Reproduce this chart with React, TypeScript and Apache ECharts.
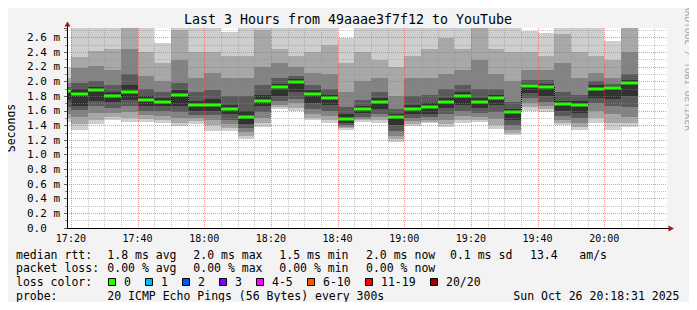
import React, { useEffect, useRef } from 'react';
import * as echarts from 'echarts';

// 5-minute smokeping columns, labelled by their end time
const colEnds = [
  '17:20', '17:25', '17:30', '17:35', '17:40', '17:45', '17:50', '17:55',
  '18:00', '18:05', '18:10', '18:15', '18:20', '18:25', '18:30', '18:35',
  '18:40', '18:45', '18:50', '18:55', '19:00', '19:05', '19:10', '19:15',
  '19:20', '19:25', '19:30', '19:35', '19:40', '19:45', '19:50', '19:55',
  '20:00', '20:05', '20:10',
];
// labelled time ticks and unlabelled 5-minute grid ticks
const timeTicks = ['17:20', '17:40', '18:00', '18:20', '18:40', '19:00', '19:20', '19:40', '20:00'];
const minorTimeTicks = [
  '17:25', '17:30', '17:35', '17:45', '17:50', '17:55', '18:05', '18:10', '18:15',
  '18:25', '18:30', '18:35', '18:45', '18:50', '18:55', '19:05', '19:10', '19:15',
  '19:25', '19:30', '19:35', '19:45', '19:50', '19:55', '20:05', '20:10', '20:15',
];

// ping distribution per column (ms), sorted ping ranks 20 (max) .. 1 (min)
const pingMax = [2.2, 2.8, 2.8, 2.8, 2.8, 2.8, 2.53, 2.8, 2.8, 2.8, 2.68, 2.8, 2.8, 2.8, 2.8, 2.8, 2.8, 2.6, 2.8, 2.8, 2.8, 2.8, 2.8, 2.8, 2.8, 2.8, 2.8, 2.8, 2.69, 2.66, 2.8, 2.8, 2.8, 2.55, 2.8];
const ping18 = [2.05, 2.34, 2.42, 2.45, 2.8, 2.4, 2.25, 2.7, 2.4, 2.4, 2.35, 2.35, 2.7, 2.45, 2.35, 2.4, 2.5, 2.25, 2.4, 2.3, 2.2, 2.35, 2.45, 2.6, 2.45, 2.75, 2.45, 2.4, 2.4, 2.35, 2.65, 2.4, 2.35, 2.3, 2.8];
const ping16 = [1.98, 2.18, 2.21, 2.15, 2.45, 2.08, 2.0, 2.3, 2.05, 2.12, 2.05, 2.05, 2.2, 2.25, 2.2, 2.12, 2.1, 1.85, 2.0, 2.05, 1.8, 2.05, 2.05, 2.1, 2.15, 2.3, 2.1, 2.0, 2.15, 2.15, 2.25, 2.05, 2.12, 2.05, 2.4];
const ping14 = [1.93, 1.98, 2.0, 1.95, 2.1, 1.9, 1.85, 1.98, 1.85, 1.88, 1.8, 1.8, 1.95, 2.05, 2.08, 1.95, 1.9, 1.65, 1.75, 1.85, 1.62, 1.8, 1.82, 1.9, 1.95, 1.9, 1.9, 1.72, 2.02, 2.02, 1.85, 1.82, 2.0, 1.97, 2.1];
const ping12 = [1.9, 1.9, 1.93, 1.86, 1.95, 1.8, 1.77, 1.88, 1.74, 1.76, 1.68, 1.6, 1.82, 1.97, 2.03, 1.88, 1.82, 1.55, 1.67, 1.77, 1.55, 1.68, 1.7, 1.78, 1.85, 1.77, 1.82, 1.62, 1.97, 1.97, 1.74, 1.73, 1.95, 1.94, 2.02];
const medianRtt = [1.87, 1.83, 1.885, 1.8, 1.86, 1.75, 1.725, 1.82, 1.685, 1.675, 1.62, 1.51, 1.74, 1.92, 1.99, 1.83, 1.77, 1.485, 1.626, 1.725, 1.51, 1.62, 1.65, 1.725, 1.8, 1.72, 1.77, 1.585, 1.935, 1.93, 1.69, 1.68, 1.9, 1.91, 1.98];
const ping9 = [1.75, 1.66, 1.74, 1.72, 1.75, 1.66, 1.66, 1.66, 1.6, 1.6, 1.55, 1.42, 1.66, 1.8, 1.85, 1.7, 1.68, 1.44, 1.57, 1.62, 1.4, 1.55, 1.56, 1.64, 1.68, 1.64, 1.68, 1.48, 1.84, 1.8, 1.6, 1.57, 1.78, 1.76, 1.8];
const ping7 = [1.65, 1.61, 1.66, 1.64, 1.66, 1.6, 1.6, 1.58, 1.54, 1.54, 1.48, 1.36, 1.58, 1.74, 1.76, 1.62, 1.6, 1.41, 1.52, 1.56, 1.32, 1.5, 1.51, 1.55, 1.6, 1.57, 1.58, 1.4, 1.77, 1.72, 1.53, 1.5, 1.7, 1.66, 1.65];
const ping5 = [1.55, 1.52, 1.57, 1.57, 1.58, 1.54, 1.53, 1.5, 1.5, 1.47, 1.42, 1.31, 1.5, 1.68, 1.7, 1.55, 1.53, 1.38, 1.49, 1.51, 1.26, 1.46, 1.48, 1.48, 1.53, 1.52, 1.49, 1.34, 1.7, 1.66, 1.48, 1.44, 1.6, 1.55, 1.52];
const ping3 = [1.5, 1.42, 1.48, 1.51, 1.5, 1.49, 1.47, 1.44, 1.46, 1.4, 1.37, 1.26, 1.43, 1.65, 1.64, 1.5, 1.47, 1.36, 1.47, 1.47, 1.22, 1.42, 1.45, 1.42, 1.48, 1.48, 1.41, 1.3, 1.65, 1.62, 1.44, 1.38, 1.5, 1.44, 1.44];
const pingMin = [1.45, 1.34, 1.42, 1.47, 1.45, 1.45, 1.43, 1.39, 1.42, 1.33, 1.32, 1.21, 1.38, 1.62, 1.6, 1.47, 1.43, 1.34, 1.45, 1.44, 1.18, 1.39, 1.43, 1.375, 1.44, 1.45, 1.35, 1.27, 1.6, 1.59, 1.41, 1.34, 1.43, 1.34, 1.38];

const lossLabels = ['0', '1', '2', '3', '4-5', '6-10', '11-19', '20/20'];
const lossColors = ['#26ff00', '#00b8ff', '#0059ff', '#7e00ff', '#ff00ff', '#ff5500', '#ff0000', '#a10000'];

const bandHi = [pingMax, ping18, ping16, ping14, ping12];
const bandLo = [pingMin, ping3, ping5, ping7, ping9];
const bandColors = ['#cecece', '#a8a8a8', '#838383', '#5a5a5a', '#323232'];

const toMin = (s: string) => {
  const [h, m] = s.split(':').map(Number);
  return h * 60 + m;
};
const fmtMin = (v: number) => {
  const r = Math.round(v);
  return `${String(Math.floor(r / 60)).padStart(2, '0')}:${String(r % 60).padStart(2, '0')}`;
};
const xStart = 17 * 60 + 18 + 50 / 60;
const xEnd = xStart + 180;
const mono = '"DejaVu Sans Mono", monospace';
const majorGrid = 'rgba(222,80,80,0.6)';
const minorGrid = 'rgba(143,143,143,0.5)';

export default function App() {
  const ref = useRef<HTMLDivElement>(null);
  useEffect(() => {
    if (!ref.current) return;
    const chart = echarts.init(ref.current, undefined, { renderer: 'svg' });
    const data = colEnds.map((t, i) => [toMin(t), medianRtt[i]]);
    const majorX = timeTicks.map(toMin);
    const gridData = [
      ...minorTimeTicks.map((t) => [toMin(t), 0]),
      ...timeTicks.map((t) => [toMin(t), 1]),
    ];

    const legendText = (x: number, y: number, text: string) => ({
      type: 'text', x, y,
      style: { text, fill: '#000', font: `11.5px ${mono}`, align: 'left', verticalAlign: 'middle' },
    });
    const graphic: any[] = [
      { type: 'rect', shape: { x: 0, y: 0, width: 697, height: 2 }, style: { fill: '#cbcbcb' } },
      { type: 'rect', shape: { x: 0, y: 0, width: 2, height: 310 }, style: { fill: '#cbcbcb' } },
      { type: 'rect', shape: { x: 0, y: 308, width: 697, height: 2 }, style: { fill: '#999999' } },
      { type: 'rect', shape: { x: 695, y: 0, width: 2, height: 310 }, style: { fill: '#999999' } },
      {
        type: 'text', x: 348, y: 19,
        style: { text: 'Last 3 Hours from 49aaae3f7f12 to YouTube', fill: '#000', font: `13.3px ${mono}`, align: 'center', verticalAlign: 'middle' },
      },
      {
        type: 'text', x: 11, y: 128, rotation: Math.PI / 2,
        style: { text: 'Seconds', fill: '#000', font: `11.5px ${mono}`, align: 'center', verticalAlign: 'middle' },
      },
      {
        type: 'text', x: 688.5, y: 68, rotation: -Math.PI / 2,
        style: { text: 'RRDTOOL / TOBI OETIKER', fill: '#a0a0a0', font: `9.5px ${mono}`, align: 'center', verticalAlign: 'middle' },
      },
      { type: 'line', shape: { x1: 67.5, y1: 28, x2: 67.5, y2: 25 }, style: { stroke: '#000', lineWidth: 1 } },
      { type: 'polygon', shape: { points: [[64.5, 26.5], [70.5, 26.5], [67.5, 21.5]] }, style: { fill: '#a01818' } },
      { type: 'line', shape: { x1: 667, y1: 228.5, x2: 669, y2: 228.5 }, style: { stroke: '#000', lineWidth: 1 } },
      { type: 'polygon', shape: { points: [[668.5, 225.5], [668.5, 231.5], [674, 228.5]] }, style: { fill: '#a01818' } },
      legendText(16, 254.5, 'median rtt:'),
      legendText(107.3, 254.5, '1.8 ms avg'),
      legendText(193.3, 254.5, '2.0 ms max'),
      legendText(279.3, 254.5, '1.5 ms min'),
      legendText(366, 254.5, '2.0 ms now'),
      legendText(450, 254.5, '0.1 ms sd'),
      legendText(530, 254.5, '13.4'),
      legendText(579.3, 254.5, 'am/s'),
      legendText(16, 268, 'packet loss:'),
      legendText(107.3, 268, '0.00 % avg'),
      legendText(193.3, 268, '0.00 % max'),
      legendText(279.3, 268, '0.00 % min'),
      legendText(366, 268, '0.00 % now'),
      legendText(16, 282, 'loss color:'),
      legendText(16, 295.5, 'probe:'),
      legendText(107.3, 295.5, '20 ICMP Echo Pings (56 Bytes) every 300s'),
      legendText(513.3, 295.5, 'Sun Oct 26 20:18:31 2025'),
    ];
    const boxX = [108.5, 145.5, 182.5, 219.5, 256.5, 307.5, 365.5, 430.5];
    lossLabels.forEach((lab, i) => {
      graphic.push({
        type: 'rect', shape: { x: boxX[i], y: 278.5, width: 7, height: 7 },
        style: { fill: lossColors[i], stroke: '#000', lineWidth: 1 },
      });
      graphic.push(legendText(boxX[i] + 15.5, 282, lab));
    });

    chart.setOption({
      animation: false,
      backgroundColor: '#f3f3f3',
      grid: { left: 67, right: 30, top: 28, bottom: 82, show: true, backgroundColor: '#ffffff', borderWidth: 0 },
      xAxis: {
        type: 'value', min: xStart, max: xEnd, z: 5,
        axisLine: { show: true, onZero: false, lineStyle: { color: '#000', width: 1 } },
        axisTick: { show: false, customValues: majorX },
        splitLine: { show: false },
        axisLabel: {
          customValues: majorX,
          color: '#000', fontFamily: mono, fontSize: 10, margin: 5,
          formatter: (v: number) => fmtMin(v),
        },
      },
      yAxis: {
        type: 'value', min: 0, max: 2.73, interval: 0.2, z: 5,
        axisLine: { show: true, lineStyle: { color: '#000', width: 1 } },
        axisTick: { show: true, length: 3, lineStyle: { color: '#666' } },
        minorTick: { show: true, splitNumber: 2, length: 2, lineStyle: { color: '#888' } },
        splitLine: { show: true, showMinLine: false, showMaxLine: false, lineStyle: { color: majorGrid, type: [1, 1], width: 1 } },
        minorSplitLine: { show: true, lineStyle: { color: minorGrid, type: [1, 1], width: 1 } },
        axisLabel: {
          color: '#000', fontFamily: mono, fontSize: 11, margin: 40, align: 'left',
          showMaxLabel: false,
          formatter: (v: number) => (v === 0 ? '0.0' : `${v.toFixed(1)} m`),
        },
      },
      series: [
        {
          type: 'custom',
          z: 2,
          data,
          encode: { x: 0, y: 1 },
          renderItem: (params: any, api: any) => {
            const i = params.dataIndex;
            const end = api.value(0);
            const start = end - 5;
            const cs = params.coordSys;
            const clipArea = { x: cs.x, y: cs.y, width: cs.width, height: cs.height };
            const xa = Math.round(api.coord([start, 0])[0]);
            const xb = Math.round(api.coord([end, 0])[0]);
            const children: any[] = [];
            for (let b = 0; b < bandHi.length; b++) {
              const yh = Math.round(api.coord([end, bandHi[b][i]])[1]);
              const yl = Math.round(api.coord([end, bandLo[b][i]])[1]);
              const r = echarts.graphic.clipRectByRect({ x: xa, y: yh, width: xb - xa, height: yl - yh }, clipArea);
              if (r) children.push({ type: 'rect', shape: r, style: { fill: bandColors[b] } });
            }
            const ym = Math.round(api.coord([end, medianRtt[i]])[1]);
            if (i > 0) {
              const yp = Math.round(api.coord([start, medianRtt[i - 1]])[1]);
              if (xa > cs.x) {
                children.push({
                  type: 'line', shape: { x1: xa + 0.5, y1: yp, x2: xa + 0.5, y2: ym },
                  style: { stroke: '#000', lineWidth: 1, lineDash: [1, 1] },
                });
              }
            }
            const mr = echarts.graphic.clipRectByRect({ x: xa, y: ym - 1.5, width: xb - xa, height: 3 }, clipArea);
            if (mr) children.push({ type: 'rect', shape: mr, style: { fill: lossColors[0] } });
            return { type: 'group', children };
          },
        },
        {
          // vertical time grid, drawn over the smoke like rrdtool does
          type: 'custom',
          z: 3,
          silent: true,
          data: gridData,
          encode: { x: 0 },
          renderItem: (params: any, api: any) => {
            const cs = params.coordSys;
            const x = Math.round(api.coord([api.value(0), 0])[0]) + 0.5;
            const major = api.value(1) === 1;
            return {
              type: 'line',
              shape: { x1: x, y1: cs.y, x2: x, y2: cs.y + cs.height },
              style: { stroke: major ? majorGrid : minorGrid, lineWidth: 1, lineDash: [1, 1] },
            };
          },
        },
      ],
      graphic,
    });
    return () => chart.dispose();
  }, []);
  return <div ref={ref} style={{ width: 697, height: 310, margin: -8 }} />;
}
